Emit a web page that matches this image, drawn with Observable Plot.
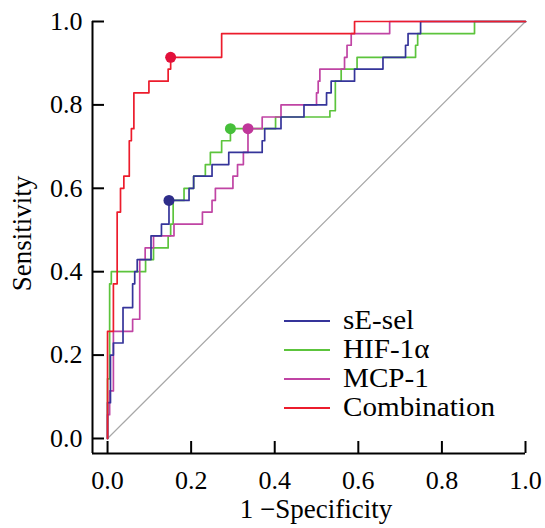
<!DOCTYPE html>
<html><head><meta charset="utf-8">
<script src="https://cdn.jsdelivr.net/npm/d3@7"></script>
<script src="https://cdn.jsdelivr.net/npm/@observablehq/plot@0.6"></script>
<style>
body{margin:0;background:#fff;}
#wrap{position:relative;width:545px;height:528px;font-family:"Liberation Serif","Times New Roman",serif;}
#wrap svg text{font-family:"Liberation Serif","Times New Roman",serif;}
.leg{position:absolute;left:284px;height:26px;font-size:26px;line-height:26px;color:#000;white-space:nowrap;}
.leg .sw{position:absolute;left:0;top:12px;width:46px;height:2px;}
.leg .t{position:absolute;left:59px;top:0;transform:scale(1.12,1.04);transform-origin:0 50%;}
</style></head>
<body><div id="wrap"></div>
<script>
// ---- data ----
const seriesNames = ["sE-sel", "HIF-1α", "MCP-1", "Combination"];
const seriesColors = ["#35349a", "#5cc43c", "#c044a4", "#ec1c2c"];
const dotColors = ["#2e2d8a", "#46bf3a", "#c0369a", "#e2103a"];

// ROC points (1-specificity, sensitivity); drawn as steps
const sEselFpr = [0, 0, 0.007, 0.014, 0.037, 0.06, 0.065, 0.071, 0.104, 0.129, 0.147, 0.195, 0.206, 0.25, 0.29, 0.37, 0.376, 0.415, 0.47, 0.524, 0.535, 0.591, 0.659, 0.713, 0.719, 0.749, 1];
const sEselTpr = [0, 0.086, 0.2, 0.229, 0.314, 0.371, 0.4, 0.429, 0.486, 0.514, 0.571, 0.6, 0.629, 0.657, 0.686, 0.714, 0.743, 0.771, 0.8, 0.829, 0.857, 0.886, 0.914, 0.943, 0.971, 1, 1];

const hifFpr = [0, 0, 0.005, 0.009, 0.091, 0.11, 0.145, 0.151, 0.157, 0.183, 0.206, 0.234, 0.246, 0.273, 0.294, 0.402, 0.532, 0.545, 0.559, 0.597, 0.737, 0.742, 0.878, 1];
const hifTpr = [0, 0.143, 0.371, 0.4, 0.429, 0.457, 0.486, 0.514, 0.571, 0.6, 0.629, 0.657, 0.686, 0.714, 0.743, 0.771, 0.786, 0.857, 0.886, 0.914, 0.943, 0.971, 1, 1];

const mcpFpr = [0, 0, 0.005, 0.014, 0.06, 0.077, 0.09, 0.11, 0.159, 0.227, 0.25, 0.258, 0.3, 0.311, 0.325, 0.336, 0.37, 0.415, 0.5, 0.504, 0.508, 0.567, 0.573, 0.583, 0.675, 1];
const mcpTpr = [0, 0.057, 0.114, 0.257, 0.286, 0.429, 0.457, 0.486, 0.514, 0.543, 0.571, 0.6, 0.629, 0.657, 0.686, 0.743, 0.771, 0.8, 0.829, 0.857, 0.886, 0.914, 0.943, 0.971, 1, 1];

const combFpr = [0, 0, 0.014, 0.023, 0.031, 0.039, 0.052, 0.057, 0.063, 0.099, 0.145, 0.151, 0.273, 0.591, 1];
const combTpr = [0, 0.257, 0.371, 0.543, 0.6, 0.629, 0.714, 0.743, 0.829, 0.857, 0.886, 0.914, 0.971, 1, 1];

// optimal cut-off points, in series order
const cutoffFpr = [0.147, 0.294, 0.336, 0.151];
const cutoffTpr = [0.571, 0.743, 0.743, 0.914];

// reference diagonal
const diagX = [0, 1];
const diagY = [0, 1];

const tickValues = [0, 0.2, 0.4, 0.6, 0.8, 1.0];
const axisMin = -0.036;
const xTitle = "1 \u2212Specificity";
const yTitle = "Sensitivity";

// ---- build tables ----
const serif = "'Liberation Serif','Times New Roman',serif";
const fprs = [sEselFpr, hifFpr, mcpFpr, combFpr];
const tprs = [sEselTpr, hifTpr, mcpTpr, combTpr];
const curves = seriesNames.map((name, s) => fprs[s].map((x, i) => ({x, y: tprs[s][i], name})));
const cutoffs = seriesNames.map((name, i) => ({x: cutoffFpr[i], y: cutoffTpr[i], color: dotColors[i]}));
const diag = diagX.map((x, i) => ({x, y: diagY[i]}));

const drawOrder = [1, 2, 0, 3];

const chart = Plot.plot({
  width: 545,
  height: 528,
  marginLeft: 92,
  marginRight: 20,
  marginTop: 21,
  marginBottom: 75,
  x: {domain: [axisMin, 1]},
  y: {domain: [axisMin, 1]},
  style: {fontFamily: serif, fontSize: "26px", color: "#000", background: "#fff", overflow: "visible"},
  marks: [
    Plot.line(diag, {x: "x", y: "y", stroke: "#a8a8a8", strokeWidth: 1.2}),
    ...drawOrder.map(s => Plot.line(curves[s], {x: "x", y: "y", stroke: seriesColors[s], strokeWidth: 1.7, curve: "step-after"})),
    Plot.dot(cutoffs, {x: "x", y: "y", fill: "color", r: 5.5}),
    Plot.ruleX([axisMin], {stroke: "#000", strokeWidth: 2}),
    Plot.ruleY([axisMin], {stroke: "#000", strokeWidth: 2}),
    Plot.axisX(tickValues, {tickSize: -12, strokeWidth: 2, tickFormat: () => "", label: null}),
    Plot.axisY(tickValues, {tickSize: -12, strokeWidth: 2, tickFormat: () => "", label: null}),
    Plot.axisX(tickValues, {tickSize: 0, tickPadding: 17, tickFormat: d3.format(".1f"), label: null, fontSize: 26, fontFamily: serif}),
    Plot.axisY(tickValues, {tickSize: 0, tickPadding: 10, tickFormat: d3.format(".1f"), label: null, fontSize: 26, fontFamily: serif}),
    Plot.text([xTitle], {text: d => d, frameAnchor: "bottom", dy: 56, dx: 7, fontSize: 27, fontFamily: serif, textAnchor: "middle", lineAnchor: "middle"}),
    Plot.text([yTitle], {text: d => d, frameAnchor: "left", rotate: -90, dx: -70, dy: -4, fontSize: 27, fontFamily: serif, textAnchor: "middle", lineAnchor: "middle"})
  ]
});

const wrap = document.getElementById("wrap");
wrap.appendChild(chart);

// legend (inside plot area, lower right)
seriesNames.forEach((name, i) => {
  const row = document.createElement("div");
  row.className = "leg";
  row.style.top = (308 + i * 29) + "px";
  const sw = document.createElement("span");
  sw.className = "sw";
  sw.style.background = seriesColors[i];
  const t = document.createElement("span");
  t.className = "t";
  t.textContent = name;
  row.appendChild(sw);
  row.appendChild(t);
  wrap.appendChild(row);
});
</script>
</body></html>
